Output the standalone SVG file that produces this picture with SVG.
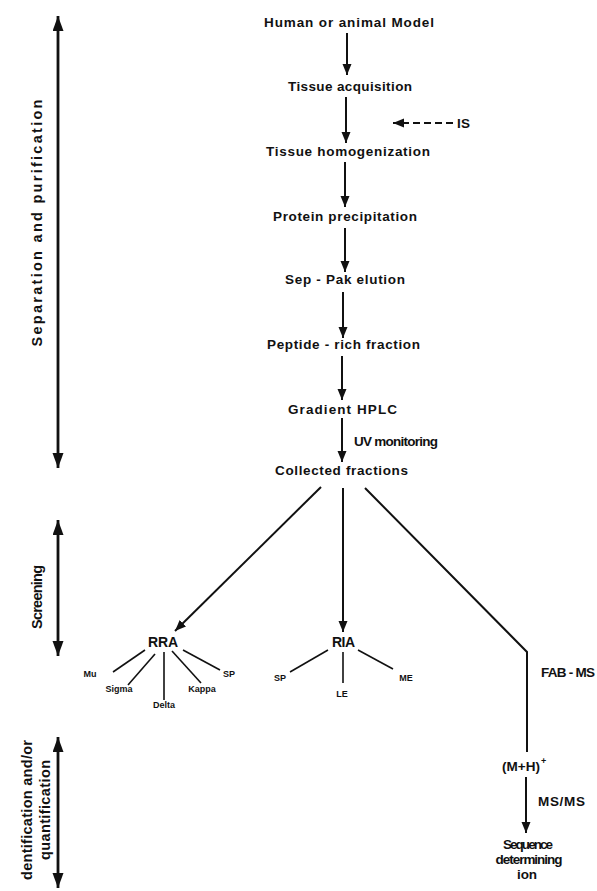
<svg xmlns="http://www.w3.org/2000/svg" width="597" height="891" viewBox="0 0 597 891">
<style>
text{font-family:"Liberation Sans",Arial,sans-serif;font-weight:bold;fill:#111;}
.n{font-size:13.5px;text-anchor:middle;}
.l{font-size:13.5px;}
.s{font-size:9px;text-anchor:middle;}
.r{font-size:14.5px;text-anchor:middle;}
.c{stroke:#111;stroke-width:2;fill:none;}
.b{stroke:#111;stroke-width:2.8;fill:none;}
.t{stroke:#111;stroke-width:1.6;fill:none;}
</style>
<defs>
<marker id="ah" markerUnits="userSpaceOnUse" markerWidth="12" markerHeight="10" refX="11" refY="4.5" orient="auto"><path d="M0,0 L11,4.5 L0,9 z" fill="#111"/></marker>
<marker id="bh" markerUnits="userSpaceOnUse" markerWidth="16" markerHeight="12" refX="15" refY="5.5" orient="auto-start-reverse"><path d="M0,0 L15,5.5 L0,11 z" fill="#111"/></marker>
</defs>
<g id="phases">
<line class="b" x1="58" y1="16" x2="58" y2="468" marker-start="url(#bh)" marker-end="url(#bh)"/>
<text class="r" transform="translate(42,223) rotate(-90)" textLength="247" lengthAdjust="spacing">Separation and purification</text>
<line class="b" x1="58" y1="520" x2="58" y2="656" marker-start="url(#bh)" marker-end="url(#bh)"/>
<text class="r" transform="translate(42,597) rotate(-90)" textLength="64" lengthAdjust="spacing">Screening</text>
<line class="b" x1="58" y1="737" x2="58" y2="888" marker-start="url(#bh)" marker-end="url(#bh)"/>
<text class="r" transform="translate(32,810) rotate(-90)" textLength="140" lengthAdjust="spacing">dentification and/or</text>
<text class="r" transform="translate(50,810) rotate(-90)" textLength="100" lengthAdjust="spacing">quantification</text>
</g>
<g id="connectors">
<line class="c" x1="347" y1="33" x2="347" y2="75" marker-end="url(#ah)"/>
<line class="c" x1="346" y1="97" x2="346" y2="143" marker-end="url(#ah)"/>
<line class="c" x1="345" y1="162" x2="345" y2="207" marker-end="url(#ah)"/>
<line class="c" x1="345" y1="228" x2="345" y2="272" marker-end="url(#ah)"/>
<line class="c" x1="343" y1="292" x2="343" y2="338" marker-end="url(#ah)"/>
<line class="c" x1="342" y1="356" x2="342" y2="400" marker-end="url(#ah)"/>
<line class="c" x1="342" y1="418" x2="342" y2="462" marker-end="url(#ah)"/>
<line class="c" x1="453" y1="123" x2="393" y2="123" stroke-dasharray="7,4" marker-end="url(#ah)"/>
<line class="c" x1="321" y1="487" x2="175" y2="631" marker-end="url(#ah)"/>
<line class="c" x1="343" y1="488" x2="343" y2="632" marker-end="url(#ah)"/>
<polyline class="c" points="365,488 527,652 527,752"/>
<line class="c" x1="526" y1="777" x2="526" y2="833" marker-end="url(#ah)"/>
<line class="t" x1="145" y1="650" x2="113" y2="672"/>
<line class="t" x1="155" y1="654" x2="128" y2="685"/>
<line class="t" x1="164" y1="652" x2="164" y2="700"/>
<line class="t" x1="172" y1="651" x2="201" y2="683"/>
<line class="t" x1="183" y1="650" x2="220" y2="670"/>
<line class="t" x1="328" y1="650" x2="290" y2="672"/>
<line class="t" x1="343" y1="652" x2="343" y2="683"/>
<line class="t" x1="358" y1="650" x2="393" y2="669"/>
</g>
<g id="model"><text class="n" x="349" y="27" textLength="170">Human or animal Model</text></g>
<g id="tissue-acquisition"><text class="n" x="350" y="91" textLength="124">Tissue acquisition</text></g>
<g id="is"><text class="l" x="457" y="128" textLength="13">IS</text></g>
<g id="homogenization"><text class="n" x="348" y="156" textLength="164">Tissue homogenization</text></g>
<g id="precipitation"><text class="n" x="345" y="221" textLength="144">Protein precipitation</text></g>
<g id="seppak"><text class="n" x="345" y="284" textLength="120">Sep - Pak elution</text></g>
<g id="peptide"><text class="n" x="343.5" y="349" textLength="153">Peptide - rich fraction</text></g>
<g id="hplc"><text class="n" x="342.5" y="414" textLength="109">Gradient HPLC</text></g>
<g id="uv"><text class="l" x="354" y="446" textLength="84">UV monitoring</text></g>
<g id="collected"><text class="n" x="341.5" y="475" textLength="133">Collected fractions</text></g>
<g id="rra">
<text class="n" x="163" y="647" textLength="30" style="font-size:14px">RRA</text>
<text class="s" x="90" y="677">Mu</text>
<text class="s" x="119" y="692">Sigma</text>
<text class="s" x="164" y="708">Delta</text>
<text class="s" x="202" y="692">Kappa</text>
<text class="s" x="229" y="677">SP</text>
</g>
<g id="ria">
<text class="n" x="343.5" y="647" textLength="23" style="font-size:14px">RIA</text>
<text class="s" x="280" y="681">SP</text>
<text class="s" x="342" y="697">LE</text>
<text class="s" x="406" y="681">ME</text>
</g>
<g id="fabms"><text class="l" x="541" y="677" textLength="54">FAB - MS</text></g>
<g id="mh"><text class="l" x="502" y="771" textLength="38">(M+H)</text><text style="font-size:9px" x="541" y="764">+</text></g>
<g id="msms"><text class="l" x="538" y="806" textLength="47">MS/MS</text></g>
<g id="sequence">
<text class="n" x="528" y="849" textLength="50">Sequence</text>
<text class="n" x="529" y="864" textLength="67">determining</text>
<text class="n" x="527" y="879">ion</text>
</g>
</svg>
